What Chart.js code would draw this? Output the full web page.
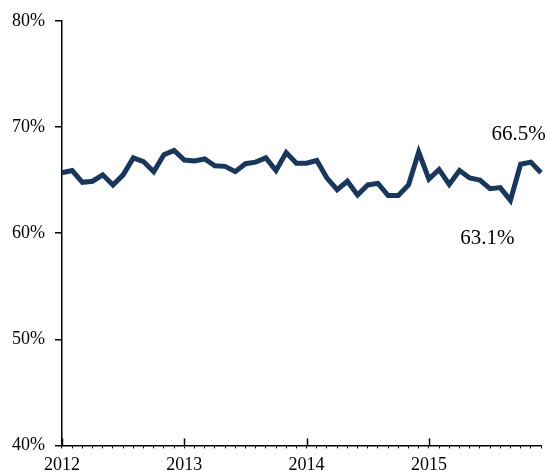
<!DOCTYPE html>
<html>
<head>
<meta charset="utf-8">
<script src="https://cdn.jsdelivr.net/npm/chart.js@4/dist/chart.umd.min.js"></script>
<style>
    html, body { margin: 0; padding: 0; background: #fff; }
    #wrap { width: 548px; height: 474px; position: relative; }
</style>
</head>
<body>
<div id="wrap"><canvas id="chart"></canvas></div>
<script>
    // monthly values, Jan 2012 - Dec 2015
    const years = ['2012', '2013', '2014', '2015'];
    const rates = [
        65.7, 65.9, 64.8, 64.9, 65.5, 64.55, 65.5, 67.1, 66.75, 65.8, 67.4, 67.8,
        66.9, 66.8, 67.0, 66.35, 66.3, 65.8, 66.55, 66.7, 67.1, 65.9, 67.6, 66.6,
        66.6, 66.85, 65.2, 64.1, 64.9, 63.6, 64.55, 64.7, 63.55, 63.55, 64.55, 67.65,
        65.1, 66.0, 64.6, 65.9, 65.2, 65.0, 64.2, 64.3, 63.1, 66.5, 66.7, 65.7
    ];
    const callouts = [
        { index: 45, text: '66.5%', dx: -2, dy: -30 },
        { index: 44, text: '63.1%', dx: -23, dy: 38 }
    ];
    const yTicks = [40, 50, 60, 70, 80];

    const labels = [];
    years.forEach(y => {
        for (let m = 1; m <= 12; m++) labels.push(y + '-' + m);
    });

    const serif = "'Liberation Serif', 'Times New Roman', serif";
    const navy = '#17375e';

    // year ticks reach up into the plot, and the value callouts
    const extras = {
        id: 'extras',
        afterDraw(chart) {
            const ctx = chart.ctx;
            const x = chart.scales.x;
            const y = chart.scales.y;
            ctx.save();
            ctx.strokeStyle = '#000';
            ctx.lineWidth = 1.5;
            labels.forEach((l, i) => {
                if (i % 12 !== 0) return;
                const px = Math.round(x.getPixelForValue(i)) + 0.5;
                ctx.beginPath();
                ctx.moveTo(px, y.bottom);
                ctx.lineTo(px, y.bottom - 7);
                ctx.stroke();
            });
            ctx.fillStyle = '#000';
            ctx.font = '21px ' + serif;
            ctx.textAlign = 'center';
            ctx.textBaseline = 'middle';
            callouts.forEach(c => {
                const px = x.getPixelForValue(c.index);
                const py = y.getPixelForValue(rates[c.index]);
                ctx.fillText(c.text, px + c.dx, py + c.dy);
            });
            ctx.restore();
        }
    };

    new Chart(document.getElementById('chart'), {
        type: 'line',
        data: {
            labels: labels,
            datasets: [{
                data: rates,
                borderColor: navy,
                borderWidth: 5,
                pointRadius: 0,
                tension: 0,
                borderJoinStyle: 'miter',
                fill: false
            }]
        },
        options: {
            responsive: true,
            maintainAspectRatio: false,
            animation: false,
            layout: { padding: { left: 2, right: 7, top: 21, bottom: -8 } },
            plugins: { legend: { display: false }, tooltip: { enabled: false } },
            scales: {
                x: {
                    offset: false,
                    border: { display: true, color: '#000', width: 1.5 },
                    grid: { drawOnChartArea: false, drawTicks: true, tickLength: 3, color: '#000', lineWidth: 1 },
                    ticks: {
                        autoSkip: false,
                        maxRotation: 0,
                        padding: 6,
                        color: '#000',
                        font: { family: serif, size: 18 },
                        callback: (v, i) => (i % 12 === 0 ? years[i / 12] : '')
                    }
                },
                y: {
                    min: yTicks[0],
                    max: yTicks[yTicks.length - 1],
                    border: { display: true, color: '#000', width: 1.5 },
                    grid: { drawOnChartArea: false, drawTicks: true, tickLength: 7, color: '#000', lineWidth: 1.5 },
                    afterBuildTicks: axis => { axis.ticks = yTicks.map(v => ({ value: v })); },
                    ticks: {
                        padding: 10,
                        color: '#000',
                        font: { family: serif, size: 18 },
                        callback: v => v + '%'
                    }
                }
            }
        },
        plugins: [extras]
    });
</script>
</body>
</html>
